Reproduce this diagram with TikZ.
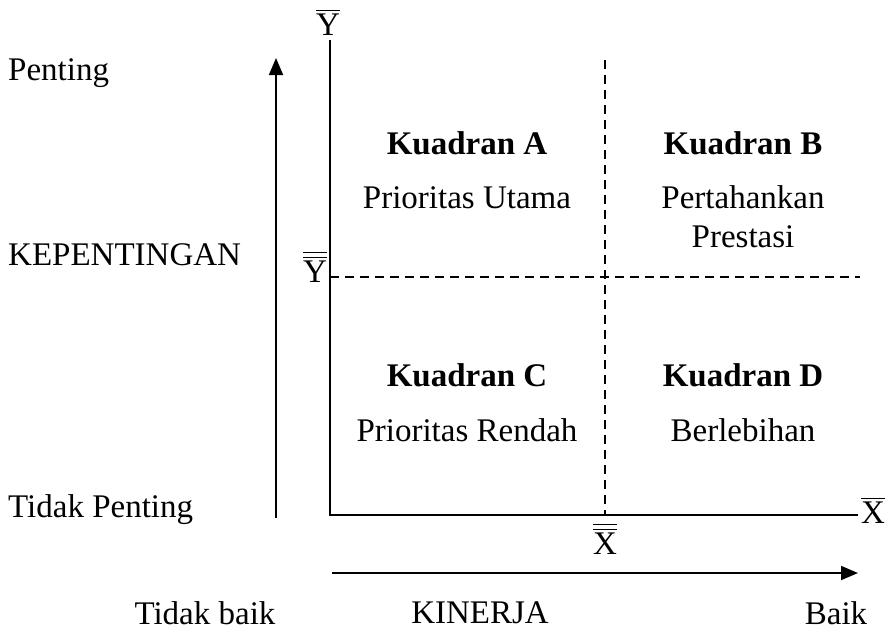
\documentclass[tikz,border=0pt]{standalone}
\usepackage{fontspec}
\usepackage{amsmath}
\setmainfont{Liberation Serif}
\usetikzlibrary{arrows.meta}
\begin{document}
\begin{tikzpicture}[x=1pt,y=-1pt,
  txt/.style={font=\fontsize{33}{39}\selectfont, inner sep=0pt},
  qhead/.style={txt, font=\fontsize{33}{39}\selectfont\bfseries},
  qbody/.style={txt, align=center},
  axis/.style={line width=1.8pt},
  grid/.style={line width=1.8pt, dash pattern=on 9pt off 6pt},
  arr/.style={line width=1.8pt, -{Triangle[length=17pt,width=14pt]}}]
\useasboundingbox (0,0) rectangle (886,635);

% axes and mean lines
\coordinate (o) at (330,515);
\coordinate (ytop) at (330,40);
\coordinate (xend) at (858,515);
\coordinate (mx0) at (605,60);
\coordinate (mx1) at (605,515);
\coordinate (my0) at (330,277);
\coordinate (my1) at (860,277);
\draw[axis] (ytop) -- (o) -- (xend);
\draw[grid] (mx0) -- (mx1);
\draw[grid] (my0) -- (my1);

% direction arrows
\coordinate (va0) at (276,518);
\coordinate (va1) at (276,58);
\coordinate (ha0) at (332,573);
\coordinate (ha1) at (858,573);
\draw[arr] (va0) -- (va1);
\draw[arr] (ha0) -- (ha1);

% axis symbols
\node[txt] (ybar) at (328,22) {$\overline{\text{Y}}$};
\node[txt] (ydbar) at (315,267) {$\overline{\overline{\text{Y}}}$};
\node[txt] (xbar) at (873,510) {$\overline{\text{X}}$};
\node[txt] (xdbar) at (605,539) {$\overline{\overline{\text{X}}}$};

% side labels
\node[txt, anchor=west] (pen) at (8,73) {Penting};
\node[txt, anchor=west] (kep) at (8,255) {KEPENTINGAN};
\node[txt, anchor=west] (tpen) at (8,510) {Tidak Penting};
\node[txt] (tbaik) at (205,613) {Tidak baik};
\node[txt] (kin) at (480,613) {KINERJA};
\node[txt] (baik) at (836,613) {Baik};

% quadrants
\node[qhead] (qa) at (467,143) {Kuadran A};
\node[qbody] (qat) at (467,198) {Prioritas Utama};
\node[qhead] (qb) at (743,143) {Kuadran B};
\node[qbody] (qbt) at (743,217) {Pertahankan\\Prestasi};
\node[qhead] (qc) at (467,375) {Kuadran C};
\node[qbody] (qct) at (467,430) {Prioritas Rendah};
\node[qhead] (qd) at (743,375) {Kuadran D};
\node[qbody] (qdt) at (743,430) {Berlebihan};
\end{tikzpicture}
\end{document}
